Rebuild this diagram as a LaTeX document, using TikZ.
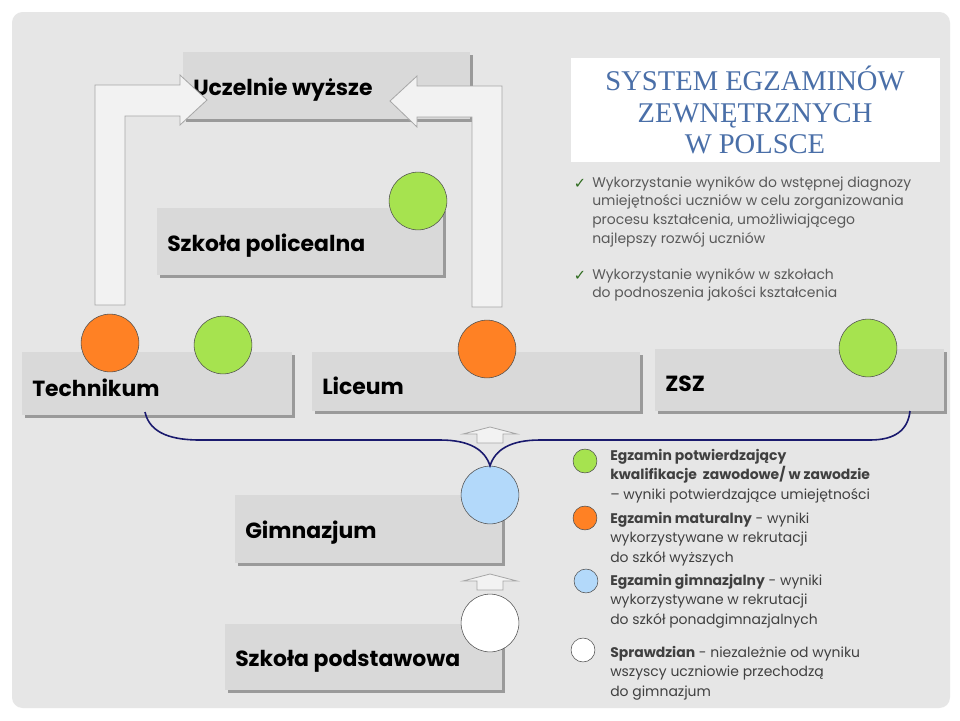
\documentclass[tikz,border=0pt]{standalone}
\usepackage{fontspec}
\setmainfont{Poppins}
\newfontfamily\titlefont{Liberation Serif}
\newfontfamily\checkfont{DejaVu Sans}
\definecolor{panel}{HTML}{E6E6E6}
\definecolor{boxgray}{HTML}{D9D9D9}
\definecolor{shadowgray}{HTML}{9A9A9A}
\definecolor{maturagreen}{HTML}{A6E34F}
\definecolor{maturaorange}{HTML}{FF8124}
\definecolor{gimblue}{HTML}{B3D9FA}
\definecolor{titleblue}{HTML}{4A6FA8}
\definecolor{bracenavy}{HTML}{1A1A6E}
\definecolor{tickgreen}{HTML}{2E6B1E}
\tikzset{
  schoolbox/.style={fill=boxgray, draw=none},
  boxlabel/.style={font=\fontsize{16.5}{20}\selectfont\bfseries, anchor=west, inner sep=0pt},
  bigdot/.style={circle, draw=black!70, minimum size=58pt*0.75, inner sep=0pt},
  smalldot/.style={circle, draw=black!70, minimum size=24pt*0.75, inner sep=0pt},
  blockarrow/.style={fill=black!5, draw=black!35, line width=0.6pt},
  bullet/.style={font=\fontsize{10.5}{14}\selectfont, text=black!65, anchor=north west, align=left, inner sep=0pt},
  legend/.style={font=\fontsize{10.5}{14.6}\selectfont, text=black!75, anchor=north west, align=left, inner sep=0pt}
}
\newcommand{\schoolbox}[6]{% name, x1, y1, x2, y2, label
  \fill[shadowgray] (#2+3,#3+3) rectangle (#4+3,#5+3);
  \fill[schoolbox] (#2,#3) rectangle (#4,#5);
  \node[boxlabel] (#1) at (#2+10,{(#3+#5)/2+4}) {#6};
}
\begin{document}
\begin{tikzpicture}[x=0.0264583cm, y=-0.0264583cm]
\useasboundingbox (0,0) rectangle (960,720);
\fill[white] (0,0) rectangle (960,720);
\fill[panel, rounded corners=8pt] (12,12) rectangle (950,708);

% boxes
\schoolbox{uczelnie}{183}{52}{470}{119}{Uczelnie wyższe}
\schoolbox{policealna}{157}{208}{443}{275}{Szkoła policealna}
\schoolbox{technikum}{22}{352}{292}{415}{Technikum}
\schoolbox{liceum}{312}{352}{640}{411}{Liceum}
\schoolbox{zsz}{655}{349}{944}{411}{ZSZ}
\schoolbox{gimnazjum}{235}{495}{502}{563}{Gimnazjum}
\schoolbox{podstawowa}{225}{624}{502}{690}{Szkoła podstawowa}

% arrows to the top
\filldraw[blockarrow] (95,305) -- (95,85) -- (180,85) -- (180,75) -- (207,100)
  -- (180,125) -- (180,116) -- (125,116) -- (125,305) -- cycle;
\filldraw[blockarrow] (502,307) -- (502,86) -- (417,86) -- (417,76) -- (390,101)
  -- (417,127) -- (417,117) -- (472,117) -- (472,307) -- cycle;
\filldraw[blockarrow] (490,427) -- (517,434) -- (503,434) -- (503,443) -- (477,443)
  -- (477,434) -- (463,434) -- cycle;
\filldraw[blockarrow] (490,574) -- (517,581) -- (503,581) -- (503,590) -- (477,590)
  -- (477,581) -- (463,581) -- cycle;

% title
\fill[white] (571,58) rectangle (940,162);
\node[font=\titlefont\fontsize{21.5}{24}\selectfont, text=titleblue, align=center] (title)
  at (755,110) {SYSTEM EGZAMINÓW\\ZEWNĘTRZNYCH\\W POLSCE};

% bullets
\node[bullet] (use1) at (592,176) {Wykorzystanie wyników do wstępnej diagnozy\\umiejętności uczniów w celu zorganizowania\\procesu kształcenia, umożliwiającego\\najlepszy rozwój uczniów};
\node[bullet] (use2) at (592,268) {Wykorzystanie wyników w szkołach\\do podnoszenia jakości kształcenia};
\node[font=\checkfont\fontsize{11}{12}\selectfont, text=tickgreen] (tick1) at (580,184) {✓};
\node[font=\checkfont\fontsize{11}{12}\selectfont, text=tickgreen] (tick2) at (580,276) {✓};

% exam dots
\node[bigdot, fill=maturaorange] (techmatura) at (110,343) {};
\node[bigdot, fill=maturagreen] (techzaw) at (223,345) {};
\node[bigdot, fill=maturagreen] (polizaw) at (418,201) {};
\node[bigdot, fill=maturaorange] (licmatura) at (487,349) {};
\node[bigdot, fill=maturagreen] (zszzaw) at (868,348) {};
\node[bigdot, fill=gimblue] (gimexam) at (490,495) {};
\node[bigdot, fill=white] (sprawdzian) at (490,623) {};

% brace
\coordinate (braceL) at (145,412);
\coordinate (braceR) at (910,411);
\draw[bracenavy, line width=1.2pt] (braceL) .. controls (150,435) and (175,440) .. (200,440)
  -- (440,440) .. controls (470,440) and (485,450) .. (gimexam.north)
  .. controls (495,450) and (510,440) .. (540,440) -- (870,440)
  .. controls (895,440) and (908,430) .. (braceR);

% legend
\node[smalldot, fill=maturagreen] (lgreen) at (585,461) {};
\node[smalldot, fill=maturaorange] (lorange) at (585,518) {};
\node[smalldot, fill=gimblue] (lblue) at (586,581) {};
\node[smalldot, fill=white] (lwhite) at (583,650) {};
\node[legend] (tgreen) at (610,449) {\textbf{Egzamin potwierdzający}\\\textbf{kwalifikacje\ \ zawodowe/ w zawodzie}\\-- wyniki potwierdzające umiejętności};
\node[legend] (torange) at (610,512) {\textbf{Egzamin maturalny} - wyniki\\wykorzystywane w rekrutacji\\do szkół wyższych};
\node[legend] (tblue) at (610,574) {\textbf{Egzamin gimnazjalny} - wyniki\\wykorzystywane w rekrutacji\\do szkół ponadgimnazjalnych};
\node[legend] (twhite) at (610,646) {\textbf{Sprawdzian} - niezależnie od wyniku\\wszyscy uczniowie przechodzą\\do gimnazjum};
\end{tikzpicture}
\end{document}
